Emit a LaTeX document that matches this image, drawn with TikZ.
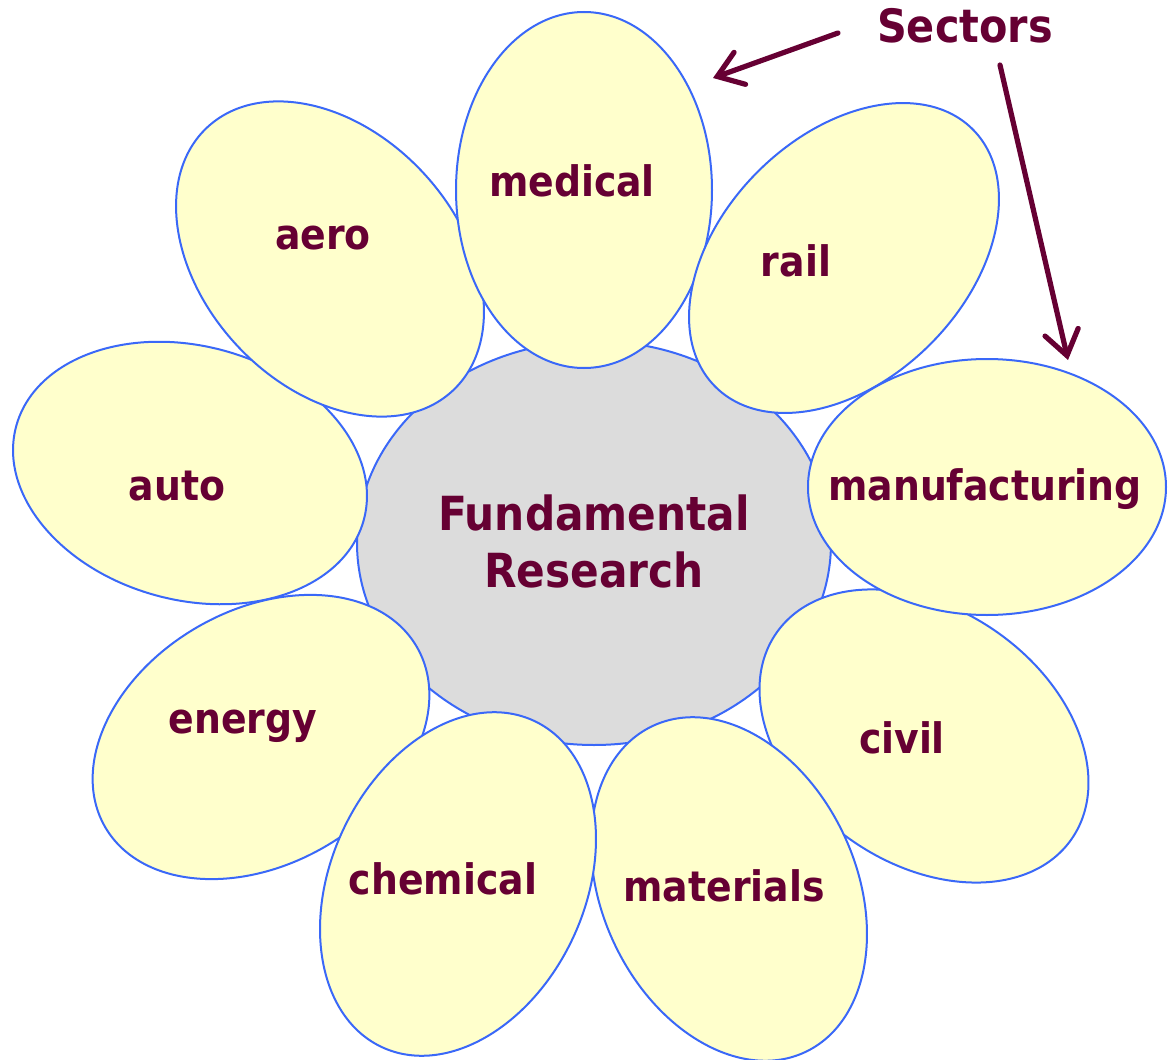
\documentclass[tikz,border=0pt]{standalone}
\usepackage{fontspec}
\setmainfont{DejaVu Sans Condensed}
\usetikzlibrary{arrows.meta}
\definecolor{wine}{HTML}{660033}
\definecolor{petalfill}{HTML}{FFFFCC}
\definecolor{coregray}{HTML}{DCDCDC}
\definecolor{rim}{HTML}{3A68F8}
\tikzset{
  petal/.style={fill=petalfill, draw=rim, line width=1pt},
  core/.style={fill=coregray, draw=rim, line width=1pt},
  sector/.style={anchor=base, text=wine, font=\bfseries\fontsize{21}{25}\selectfont},
  pointer/.style={draw=wine, line width=2.6pt, line cap=round,
    -{Straight Barb[length=12pt,width=17pt,line cap=round]}}
}
\begin{document}
\begin{tikzpicture}[x=0.5pt,y=-0.5pt]
\useasboundingbox (0,0) rectangle (1175,1060);

% centre
\draw[core] (594,543) ellipse [x radius=237, y radius=202];

% petals, back to front
\draw[petal] (924,736) ellipse [x radius=180, y radius=127, rotate=-35];
\draw[petal] (190,473) ellipse [x radius=180, y radius=127, rotate=-15];
\draw[petal] (330,259) ellipse [x radius=180, y radius=127, rotate=-47];
\draw[petal] (584,190) ellipse [x radius=178, y radius=128, rotate=90];
\draw[petal] (844,258) ellipse [x radius=182, y radius=122, rotate=45];
\draw[petal] (987,487) ellipse [x radius=179, y radius=128];
\draw[petal] (261,737) ellipse [x radius=180, y radius=127, rotate=30];
\draw[petal] (729,889) ellipse [x radius=180, y radius=127, rotate=-65];
\draw[petal] (458,884) ellipse [x radius=180, y radius=127, rotate=65];

% labels
\node[sector, font=\bfseries\fontsize{23.5}{28.5}\selectfont, align=center, anchor=center] (fund) at (594,541) {Fundamental\\Research};
\node[sector] (medical) at (572,196) {medical};
\node[sector] (aero) at (323,249) {aero};
\node[sector] (rail) at (796,276) {rail};
\node[sector] (manuf) at (985,500) {manufacturing};
\node[sector] (auto) at (177,500) {auto};
\node[sector] (energy) at (243,733) {energy};
\node[sector] (civil) at (902,753) {civil};
\node[sector] (chem) at (443,894) {chemical};
\node[sector] (mat) at (724,901) {materials};

% pointers
\node[sector, font=\bfseries\fontsize{23}{28}\selectfont] (sectors) at (965,42) {Sectors};
\coordinate (s1) at (838,33);
\coordinate (s2) at (1000,65);
\coordinate (medtip) at (713,78);
\coordinate (mantip) at (1068,360);
\draw[pointer] (s1) -- (medtip);
\draw[pointer] (s2) -- (mantip);
\end{tikzpicture}
\end{document}
